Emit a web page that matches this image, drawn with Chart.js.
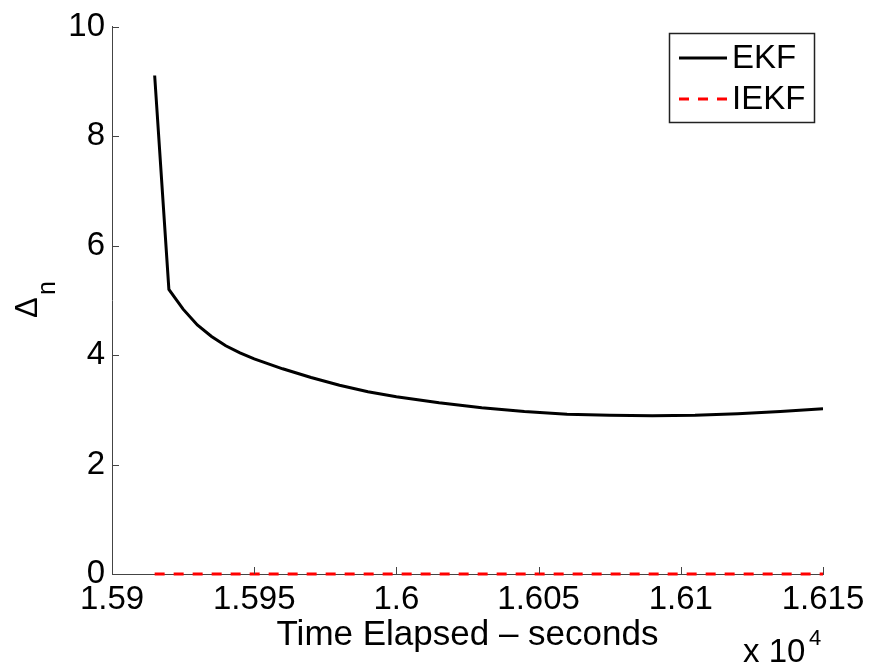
<!DOCTYPE html>
<html>
<head>
<meta charset="utf-8">
<script src="https://cdn.jsdelivr.net/npm/chart.js@4.4.0/dist/chart.umd.min.js"></script>
<style>
  html, body { margin: 0; padding: 0; background: #fff; }
  #wrap { width: 873px; height: 668px; }
</style>
</head>
<body>
<div id="wrap"><canvas id="deltaChart" width="873" height="668"></canvas></div>
<script>
// time stamps (seconds) and Delta_n
const timeSec = [15915, 15920, 15925, 15930, 15935, 15940, 15945, 15950, 15955, 15960, 15970,
                 15980, 15990, 16000, 16015, 16030, 16045, 16060, 16075, 16090, 16105,
                 16120, 16135, 16150];
const ekfDelta = [9.11, 5.20, 4.84, 4.55, 4.34, 4.17, 4.04, 3.93, 3.84, 3.75, 3.59,
                  3.45, 3.33, 3.24, 3.13, 3.04, 2.97, 2.92, 2.90, 2.89, 2.90,
                  2.93, 2.97, 3.02];
const iekfDelta = [0, 0, 0, 0, 0, 0, 0, 0, 0, 0, 0,
                   0, 0, 0, 0, 0, 0, 0, 0, 0, 0,
                   0, 0, 0];
const seriesNames = ['EKF', 'IEKF'];
const xTicks = [15900, 15950, 16000, 16050, 16100, 16150];
const yTicks = [0, 2, 4, 6, 8, 10];

const FONT = 'Liberation Sans, Arial, Helvetica, sans-serif';
const axisColor = '#444';

// inward ticks, legend box and axis labels
const matlabLook = {
  id: 'matlabLook',
  afterDraw(chart) {
    const ctx = chart.ctx;
    const xs = chart.scales.x, ys = chart.scales.y;
    const area = chart.chartArea;
    ctx.save();
    ctx.strokeStyle = axisColor;
    ctx.lineWidth = 1;
    ctx.beginPath();
    xs.ticks.forEach(t => {
      const px = Math.round(xs.getPixelForValue(t.value)) + 0.5;
      ctx.moveTo(px, area.bottom);
      ctx.lineTo(px, area.bottom - 7);
    });
    ys.ticks.forEach(t => {
      const py = Math.round(ys.getPixelForValue(t.value)) + 0.5;
      ctx.moveTo(area.left, py);
      ctx.lineTo(area.left + 7, py);
    });
    ctx.stroke();

    // x label
    ctx.fillStyle = '#000';
    ctx.font = '35px ' + FONT;
    ctx.textAlign = 'center';
    ctx.textBaseline = 'alphabetic';
    ctx.fillText('Time Elapsed \u2013 seconds', (area.left + area.right) / 2, 645);

    // exponent
    ctx.textAlign = 'left';
    ctx.font = '33px ' + FONT;
    ctx.fillText('x 10', 743, 662);
    ctx.font = '22px ' + FONT;
    ctx.fillText('4', 809, 645);

    // y label: Delta_n rotated
    ctx.save();
    ctx.translate(37, 318);
    ctx.rotate(-Math.PI / 2);
    ctx.font = '31px ' + FONT;
    ctx.fillText('\u0394', 0, 0);
    ctx.font = '25px ' + FONT;
    ctx.fillText('n', 23, 18);
    ctx.restore();

    // legend
    const bx = 669.5, by = 33.5, bw = 145, bh = 89;
    ctx.fillStyle = '#fff';
    ctx.fillRect(bx, by, bw, bh);
    ctx.strokeStyle = '#222';
    ctx.lineWidth = 1.5;
    ctx.strokeRect(bx, by, bw, bh);
    const rows = [58, 99];
    chart.data.datasets.forEach((ds, i) => {
      ctx.beginPath();
      ctx.strokeStyle = ds.borderColor;
      ctx.lineWidth = ds.borderWidth;
      ctx.setLineDash(ds.borderDash || []);
      ctx.moveTo(679, rows[i]);
      ctx.lineTo(727, rows[i]);
      ctx.stroke();
      ctx.setLineDash([]);
      ctx.fillStyle = '#000';
      ctx.font = '33px ' + FONT;
      ctx.textBaseline = 'middle';
      ctx.fillText(ds.label, 732, rows[i] + 1);
    });
    ctx.restore();
  }
};

new Chart(document.getElementById('deltaChart'), {
  type: 'line',
  data: {
    datasets: [
      {
        label: seriesNames[0],
        data: timeSec.map((t, i) => ({ x: t, y: ekfDelta[i] })),
        borderColor: '#000',
        borderWidth: 3,
        pointRadius: 0,
        tension: 0,
        fill: false
      },
      {
        label: seriesNames[1],
        data: timeSec.map((t, i) => ({ x: t, y: iekfDelta[i] })),
        borderColor: '#ff0000',
        borderWidth: 3,
        borderDash: [10, 9],
        pointRadius: 0,
        tension: 0,
        fill: false,
        clip: false
      }
    ]
  },
  options: {
    responsive: false,
    animation: false,
    devicePixelRatio: 1,
    layout: { padding: { left: 0, right: 50, top: 26, bottom: 0 } },
    plugins: { legend: { display: false }, tooltip: { enabled: false } },
    scales: {
      x: {
        type: 'linear',
        min: xTicks[0],
        max: xTicks[xTicks.length - 1],
        afterBuildTicks: s => { s.ticks = xTicks.map(v => ({ value: v })); },
        afterFit: s => { s.height = 94; },
        grid: { display: false, drawTicks: false },
        border: { display: true, color: axisColor, width: 1 },
        ticks: {
          padding: 6,
          color: '#000',
          font: { family: FONT, size: 33 },
          maxRotation: 0,
          autoSkip: false,
          callback: v => String(parseFloat((v / 1e4).toFixed(4)))
        }
      },
      y: {
        min: yTicks[0],
        max: yTicks[yTicks.length - 1],
        afterBuildTicks: s => { s.ticks = yTicks.map(v => ({ value: v })); },
        afterFit: s => { s.width = 112; },
        grid: { display: false, drawTicks: false },
        border: { display: true, color: axisColor, width: 1 },
        ticks: {
          padding: 7,
          color: '#000',
          font: { family: FONT, size: 33 }
        }
      }
    }
  },
  plugins: [matlabLook]
});
</script>
</body>
</html>
